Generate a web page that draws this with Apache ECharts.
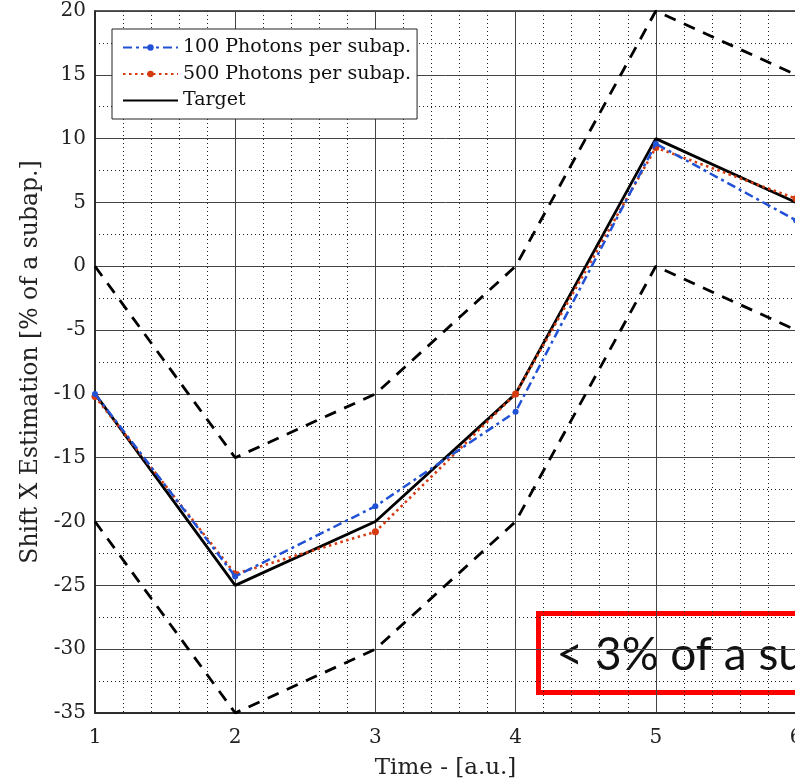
<!DOCTYPE html>
<html>
<head>
<meta charset="utf-8">
<script src="https://cdn.jsdelivr.net/npm/echarts@6/dist/echarts.min.js"></script>
<style>
  html, body { margin: 0; padding: 0; background: #fff; }
  #chart { width: 795px; height: 782px; }
</style>
</head>
<body>
<div id="chart"></div>
<script>
// Time steps (a.u.)
const timeSteps = [1, 2, 3, 4, 5, 6];
// Shift X estimates, % of a subaperture
const photons100 = [-10.0, -24.3, -18.8, -11.4, 9.6, 3.6];
const photons500 = [-10.2, -24.1, -20.8, -10.0, 9.3, 5.3];
const target = [-10, -25, -20, -10, 10, 5];
// Tolerance envelope around the target
const upperBound = [0, -15, -10, 0, 20, 15];
const lowerBound = [-20, -35, -30, -20, 0, -5];

const yTicks = { min: -35, max: 20, step: 5 };
const xTicks = { min: 1, max: 6, step: 1 };

const serif = 'DejaVu Serif';
const pair = (ys) => timeSteps.map((t, i) => [t, ys[i]]);

const chart = echarts.init(document.getElementById('chart'), null, { renderer: 'canvas' });

chart.setOption({
  animation: false,
  backgroundColor: '#fff',
  grid: {
    left: 95, top: 11, width: 701, bottom: 69,
    containLabel: false,
    outerBoundsMode: 'none',
    show: true, borderColor: '#222', borderWidth: 1.5, backgroundColor: 'transparent'
  },
  legend: {
    orient: 'vertical',
    left: 112, top: 29,
    padding: [9, 6, 9, 10],
    itemGap: 7.5,
    itemWidth: 55, itemHeight: 8,
    backgroundColor: '#fff',
    borderColor: '#222', borderWidth: 1,
    textStyle: { fontFamily: serif, fontSize: 19, color: '#111' },
    data: [
      { name: '100 Photons per subap.' },
      { name: '500 Photons per subap.' },
      { name: 'Target', itemStyle: { opacity: 0 } }
    ]
  },
  xAxis: {
    type: 'value',
    min: xTicks.min, max: xTicks.max, interval: xTicks.step,
    name: 'Time - [a.u.]',
    nameLocation: 'middle', nameGap: 44,
    nameTextStyle: { fontFamily: serif, fontSize: 23, color: '#222' },
    axisLine: { show: true, onZero: false, lineStyle: { color: '#222', width: 1.5 } },
    axisTick: { show: false },
    axisLabel: { fontFamily: serif, fontSize: 20, color: '#222', margin: 15 },
    splitLine: { show: true, lineStyle: { color: '#444', width: 1 } },
    minorTick: { show: false, splitNumber: 5 },
    minorSplitLine: { show: true, lineStyle: { color: '#222', width: 1, type: [1, 3] } }
  },
  yAxis: {
    type: 'value',
    min: yTicks.min, max: yTicks.max, interval: yTicks.step,
    name: 'Shift X Estimation [% of a subap.]',
    nameLocation: 'middle', nameGap: 50,
    nameTextStyle: { fontFamily: serif, fontSize: 23.5, color: '#222' },
    axisLine: { show: true, onZero: false, lineStyle: { color: '#222', width: 1.5 } },
    axisTick: { show: false },
    axisLabel: { fontFamily: serif, fontSize: 20, color: '#222', margin: 9 },
    splitLine: { show: true, lineStyle: { color: '#444', width: 1 } },
    minorTick: { show: false, splitNumber: 2 },
    minorSplitLine: { show: true, lineStyle: { color: '#222', width: 1, type: [1, 3] } }
  },
  series: [
    {
      name: 'upper', type: 'line', data: pair(upperBound),
      symbol: 'none', silent: true,
      lineStyle: { color: '#000', width: 2.8, type: [12, 9] }, z: 3
    },
    {
      name: 'lower', type: 'line', data: pair(lowerBound),
      symbol: 'none', silent: true,
      lineStyle: { color: '#000', width: 2.8, type: [12, 9] }, z: 3
    },
    {
      name: 'Target', type: 'line', data: pair(target),
      symbol: 'none',
      itemStyle: { color: '#000' },
      lineStyle: { color: '#000', width: 2.8 }, z: 4
    },
    {
      name: '500 Photons per subap.', type: 'line', data: pair(photons500),
      symbol: 'circle', symbolSize: 7,
      itemStyle: { color: '#d53a10' },
      lineStyle: { color: '#d53a10', width: 2.6, type: [2.5, 3.5] }, z: 5
    },
    {
      name: '100 Photons per subap.', type: 'line', data: pair(photons100),
      symbol: 'circle', symbolSize: 6,
      itemStyle: { color: '#2152d6' },
      lineStyle: { color: '#2152d6', width: 2.5, type: [9, 4, 3, 4] }, z: 6
    }
  ],
  graphic: [
    {
      type: 'group', left: 536, top: 611, z: 100,
      children: [
        {
          type: 'rect',
          shape: { x: 0, y: 0, width: 300, height: 79 },
          style: { fill: '#fff', stroke: '#ff0000', lineWidth: 5 }
        },
        {
          type: 'text', x: 18, y: 42,
          style: {
            text: '< 3% of a subap.',
            font: '46px Lato',
            fill: '#111',
            verticalAlign: 'middle'
          }
        }
      ]
    }
  ]
});
</script>
</body>
</html>
